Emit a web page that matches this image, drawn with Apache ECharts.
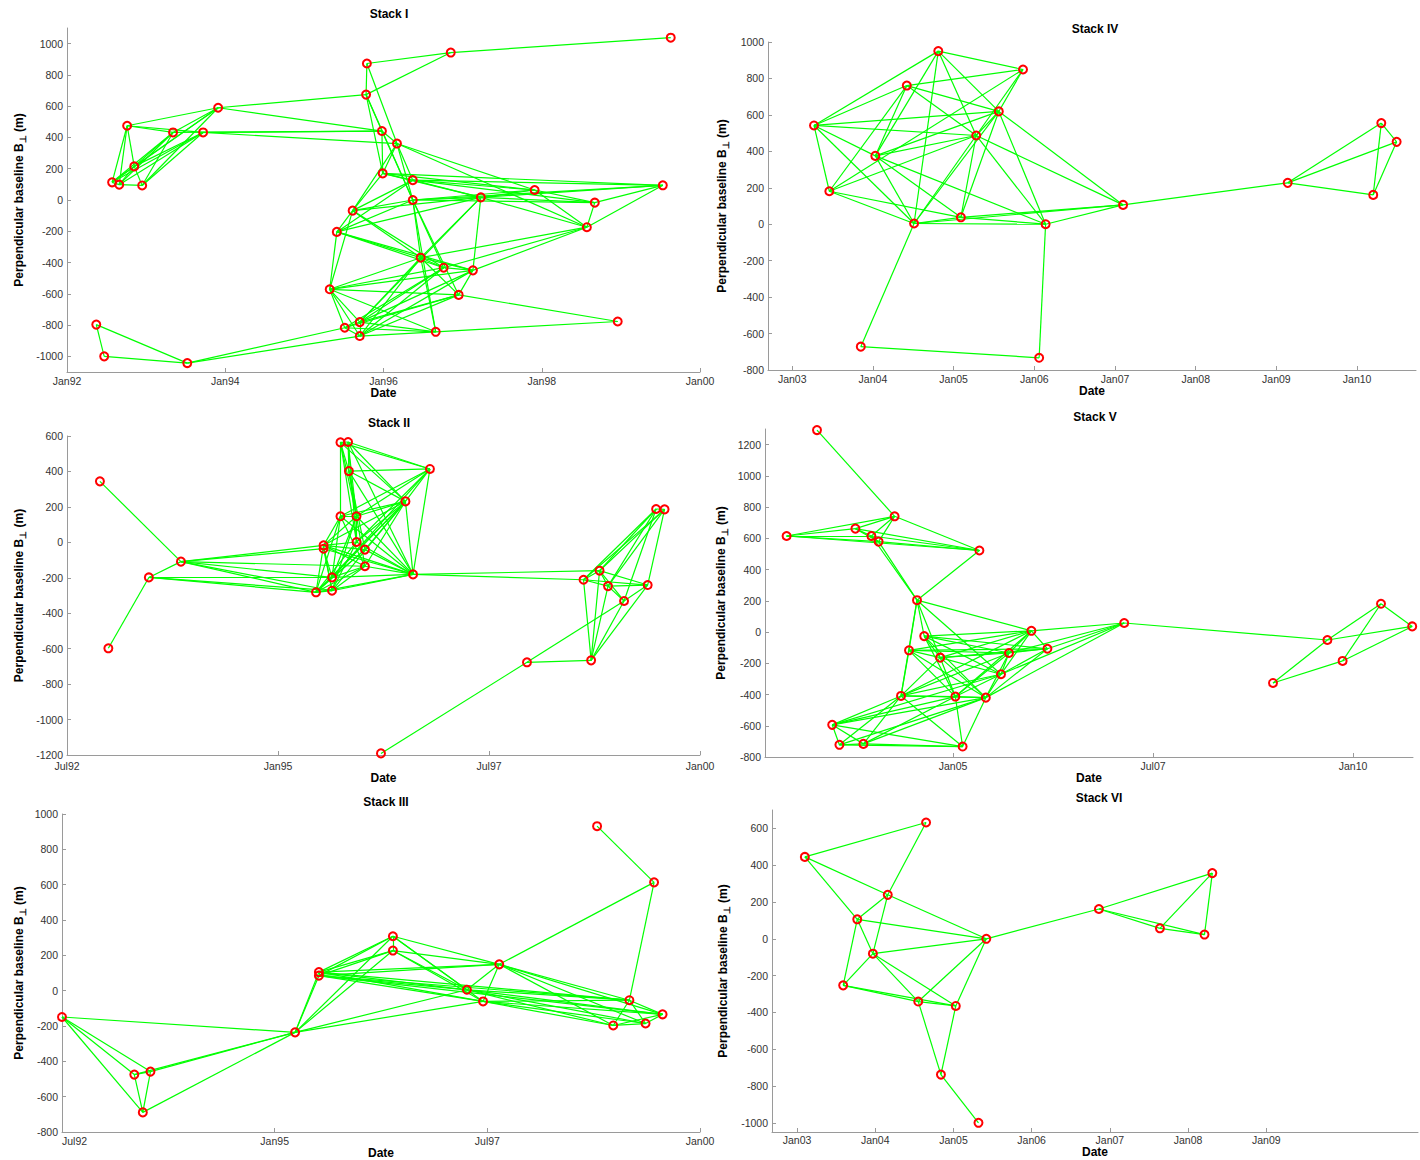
<!DOCTYPE html>
<html><head><meta charset="utf-8">
<script src="https://cdn.jsdelivr.net/npm/echarts@6/dist/echarts.min.js"></script>
<style>html,body{margin:0;padding:0;background:#fff}#chart{width:1420px;height:1160px}</style>
</head><body><div id="chart"></div>
<script>
// ---------- Stack I ----------
const datesI = [1999.63,1996.85,1995.79,1995.78,1993.91,1992.76,1993.34,1993.72,1995.98,1996.17,1992.85,1992.57,1992.66,1992.95,1995.99,1996.37,1997.91,1999.53,1996.37,1997.23,1998.67,1995.61,1995.41,1998.57,1996.47,1996.76,1997.13,1995.32,1996.95,1998.96,1995.70,1995.51,1995.70,1996.66,1992.37,1992.47,1993.52];
const bperpI = [1038,943,873,674,590,475,432,432,441,361,215,113,98,93,170,127,64,94,0,17,-17,-68,-204,-174,-369,-433,-450,-571,-607,-777,-781,-817,-870,-843,-797,-1000,-1043];
const edgesI = [[1,2],[2,3],[2,4],[3,4],[3,10],[4,9],[4,15],[4,19],[4,5],[5,9],
 [5,6],[5,7],[5,12],[5,14],[5,11],[6,7],[6,8],[8,9],[8,10],[7,9],
 [6,11],[6,12],[6,13],[11,12],[11,13],[11,14],[12,13],[13,14],[7,11],[7,12],[7,13],[8,11],[8,12],[8,14],[7,14],[8,13],
 [9,10],[9,15],[9,19],[10,15],[10,19],[10,16],[10,22],[10,17],[10,24],
 [15,16],[15,17],[15,20],[15,18],[15,22],
 [16,17],[16,21],[16,18],[16,20],[16,22],[16,23],
 [19,20],[19,17],[19,18],[19,21],[19,22],[19,23],[19,25],[19,26],[19,29],[19,34],
 [20,17],[20,21],[20,18],[20,24],[20,22],[20,23],[20,25],[20,27],[20,31],
 [17,21],[17,24],[18,21],[18,24],[21,24],
 [22,23],[22,25],[22,26],[22,28],
 [23,25],[23,26],[23,28],[23,27],
 [24,25],[24,27],[24,26],
 [25,26],[25,27],[25,28],[25,29],[25,31],[25,33],[25,34],
 [26,27],[26,28],[26,31],[26,32],[26,33],
 [27,29],[27,28],[27,31],[27,33],
 [28,29],[28,31],[28,32],[28,33],[28,34],
 [29,30],[29,31],[29,32],[29,33],
 [31,32],[31,33],[31,34],[32,33],[32,34],[33,34],[34,30],
 [37,32],[37,33],[35,36],[35,37],[36,37]];
const xTicksI = [1992,1994,1996,1998,2000];
const xLabelsI = ['Jan92','Jan94','Jan96','Jan98','Jan00'];
const yTicksI = [-1000,-800,-600,-400,-200,0,200,400,600,800,1000];

// ---------- Stack II ----------
const datesII = [1992.89,1992.99,1993.47,1993.85,1995.74,1995.83,1995.84,1996.80,1996.51,1995.74,1995.93,1995.93,1996.03,1995.54,1995.54,1996.03,1995.64,1995.45,1995.64,1996.60,1999.48,1999.58,1998.81,1998.62,1998.91,1999.38,1999.10,1998.71,1997.95,1996.22];
const bperpII = [344,-598,-198,-109,564,566,402,414,231,147,147,2,-41,-17,-36,-135,-198,-282,-273,-181,188,186,-160,-211,-247,-241,-331,-666,-677,-1191];
const edgesII = [[1,4],[2,3],[3,4],[4,14],[4,15],[4,18],[4,19],[4,17],[4,16],[3,18],[3,17],[3,19],
 [5,6],[5,7],[5,8],[5,9],[5,10],[5,11],[5,12],[6,7],[6,8],[6,9],[6,11],[6,20],[6,12],[7,8],[7,9],[7,20],[7,11],[7,13],[7,16],
 [8,9],[8,20],[8,10],[8,11],[8,12],[8,17],[9,10],[9,11],[9,12],[9,13],[9,14],[9,16],[9,17],[9,18],[9,19],[9,20],
 [10,11],[10,14],[10,16],[10,17],[10,18],[10,20],[11,12],[11,14],[11,17],[11,19],[11,20],[12,14],[12,18],[12,20],
 [13,14],[13,17],[13,20],[14,15],[14,16],[14,18],[14,19],[14,20],[15,17],[15,19],[15,20],[16,18],[16,19],[16,20],
 [17,18],[17,20],[18,19],[18,20],[19,20],[12,19],[13,18],[16,17],
 [20,23],[20,24],
 [21,22],[21,23],[21,24],[21,25],[21,27],[22,23],[22,26],[22,24],[22,25],[23,24],[23,25],[23,26],[23,27],[23,28],
 [24,25],[24,26],[24,28],[25,26],[25,27],[25,28],[26,27],[26,28],[27,29],[28,29],[29,30],[27,28]];
const xTicksII = [1992.5,1995,1997.5,2000];
const xLabelsII = ['Jul92','Jan95','Jul97','Jan00'];
const yTicksII = [-1200,-1000,-800,-600,-400,-200,0,200,400,600];

// ---------- Stack III ----------
const datesIII = [1992.50,1993.35,1993.54,1993.45,1995.24,1995.52,1995.52,1996.39,1996.39,1997.64,1997.26,1997.45,1999.17,1999.56,1998.98,1999.36,1998.79,1999.46];
const bperpIII = [-149,-475,-458,-689,-236,105,85,308,227,149,5,-61,-54,-134,-197,-186,931,613];
const edgesIII = [[1,2],[1,3],[1,4],[1,5],[2,3],[2,4],[3,4],[2,5],[3,5],[4,5],[5,6],[5,7],[5,8],[5,9],[5,11],[5,12],
 [6,7],[6,8],[6,9],[6,10],[6,11],[6,12],[7,8],[7,9],[7,10],[7,11],[7,12],[7,13],[6,13],[7,14],
 [8,10],[8,11],[8,9],[8,12],[9,10],[9,11],[9,12],[10,11],[10,12],[10,18],[10,13],[10,14],[10,15],[10,16],
 [11,13],[11,14],[11,15],[11,16],[12,13],[12,14],[12,15],[12,16],[13,14],[13,15],[13,16],[14,15],[14,16],[15,16],[13,18],[17,18]];
const xTicksIII = [1992.5,1995,1997.5,2000];
const xLabelsIII = ['Jul92','Jan95','Jul97','Jan00'];
const yTicksIII = [-800,-600,-400,-200,0,200,400,600,800,1000];

// ---------- Stack IV ----------
const datesIV = [2004.81,2005.86,2004.42,2005.56,2003.27,2005.28,2004.03,2003.46,2005.09,2004.51,2006.14,2007.10,2003.85,2006.06,2009.14,2010.30,2010.49,2010.20];
const bperpIV = [950,849,761,619,542,487,375,181,38,4,0,106,-672,-733,227,555,452,161];
const edgesIV = [[1,2],[1,5],[1,7],[1,10],[1,6],[1,4],[2,3],[2,4],[2,6],[2,8],[3,5],[3,4],[3,6],[3,7],[3,8],
 [5,4],[5,6],[5,8],[5,7],[5,10],[7,4],[7,6],[7,9],[7,11],[7,10],[8,6],[8,9],[8,10],
 [6,9],[6,10],[6,11],[6,12],[6,4],[4,9],[4,10],[4,11],[4,12],[9,10],[9,11],[9,12],[10,11],[10,12],[11,12],
 [10,13],[11,14],[13,14],[12,15],[15,16],[15,17],[15,18],[16,17],[16,18],[17,18]];
const xTicksIV = [2003,2004,2005,2006,2007,2008,2009,2010];
const xLabelsIV = ['Jan03','Jan04','Jan05','Jan06','Jan07','Jan08','Jan09','Jan10'];
const yTicksIV = [-800,-600,-400,-200,0,200,400,600,800,1000];

// ---------- Stack V ----------
const datesV = [2003.30,2004.27,2002.92,2003.78,2003.98,2004.07,2005.33,2004.55,2005.98,2007.14,2004.64,2004.45,2004.84,2005.70,2006.18,2005.60,2004.35,2005.03,2005.41,2003.49,2003.58,2003.88,2005.12,2009.00,2009.68,2009.87,2010.35,2010.74];
const bperpV = [1293,741,615,662,615,579,522,204,8,58,-26,-117,-164,-134,-107,-270,-409,-413,-420,-594,-722,-716,-733,-326,-51,-185,181,36];
const edgesV = [[1,2],[2,3],[2,4],[2,5],[2,6],[2,7],[3,4],[3,5],[3,6],[3,7],[4,5],[4,6],[4,7],[5,6],[5,7],[6,7],[6,8],[5,8],[7,8],
 [8,9],[8,11],[8,12],[8,13],[8,16],[8,17],[9,10],[9,11],[9,12],[9,13],[9,14],[9,15],[9,16],[9,17],[9,18],
 [10,14],[10,15],[10,16],[10,19],[10,25],[11,13],[11,14],[11,15],[11,16],[11,18],[11,19],
 [12,13],[12,14],[12,15],[12,17],[12,18],[12,19],[13,14],[13,15],[13,16],[13,17],[13,18],[13,19],
 [14,15],[14,16],[14,17],[14,18],[14,19],[15,16],[15,19],[16,17],[16,18],[16,19],[16,20],
 [17,18],[17,19],[17,20],[17,21],[17,22],[17,23],[18,19],[18,20],[18,22],[18,23],[19,20],[19,21],[19,22],[19,23],
 [20,21],[20,22],[20,23],[21,22],[21,23],[22,23],
 [24,25],[24,26],[25,27],[25,28],[26,27],[26,28],[27,28]];
const xTicksV = [2005,2007.5,2010];
const xLabelsV = ['Jan05','Jul07','Jan10'];
const yTicksV = [-800,-600,-400,-200,0,200,400,600,800,1000,1200];

// ---------- Stack VI ----------
const datesVI = [2004.65,2003.10,2004.16,2003.77,2005.42,2003.97,2003.59,2004.55,2005.03,2004.84,2005.32,2006.86,2007.64,2008.21,2008.31];
const bperpVI = [632,445,239,106,0,-81,-253,-341,-365,-738,-1000,162,57,23,357];
const edgesVI = [[1,2],[1,3],[2,3],[2,4],[3,4],[3,6],[3,5],[4,5],[4,6],[4,7],[6,7],[6,5],[6,8],[6,9],[7,8],[7,9],[8,9],[8,5],[9,5],[8,10],[9,10],[10,11],[5,12],[12,13],[12,14],[12,15],[13,14],[13,15],[14,15]];
const xTicksVI = [2003,2004,2005,2006,2007,2008,2009];
const xLabelsVI = ['Jan03','Jan04','Jan05','Jan06','Jan07','Jan08','Jan09'];
const yTicksVI = [-1000,-800,-600,-400,-200,0,200,400,600];

const titles = ['Stack I','Stack II','Stack III','Stack IV','Stack V','Stack VI'];

// ---------- layout ----------
const panels = [
 {title:titles[0], g:{left:67,top:28,width:633,height:344}, x:[1992,2000], y:[-1100,1100], xt:xTicksI, xl:xLabelsI, yt:yTicksI, d:datesI, b:bperpI, e:edgesI, tx:384, ty:3, yGap:40, xGap:13, xm:3},
 {title:titles[3], g:{left:768,top:42,width:648,height:328}, x:[2002.70,2010.73], y:[-800,1000], xt:xTicksIV, xl:xLabelsIV, yt:yTicksIV, d:datesIV, b:bperpIV, e:edgesIV, tx:1090, ty:18, yGap:38, xGap:11, xm:3},
 {title:titles[1], g:{left:67,top:436,width:633,height:319}, x:[1992.5,2000], y:[-1200,600], xt:xTicksII, xl:xLabelsII, yt:yTicksII, d:datesII, b:bperpII, e:edgesII, tx:384, ty:412, yGap:40, xGap:11, xm:5},
 {title:titles[4], g:{left:765,top:429,width:648,height:328}, x:[2002.65,2010.75], y:[-800,1300], xt:xTicksV, xl:xLabelsV, yt:yTicksV, d:datesV, b:bperpV, e:edgesV, tx:1090, ty:406, yGap:36, xGap:11, xm:3},
 {title:titles[2], g:{left:62,top:814,width:638,height:318}, x:[1992.5,2000], y:[-800,1000], xt:xTicksIII, xl:xLabelsIII, yt:yTicksIII, d:datesIII, b:bperpIII, e:edgesIII, tx:381, ty:791, yGap:35, xGap:10, xm:3, tight:true, minLeft:true},
 {title:titles[5], g:{left:772,top:810,width:646,height:322}, x:[2002.68,2010.94], y:[-1050,700], xt:xTicksVI, xl:xLabelsVI, yt:yTicksVI, d:datesVI, b:bperpVI, e:edgesVI, tx:1094, ty:787, yGap:41, xGap:10, xm:2, tight:true}
];

const labelFont = '"Liberation Sans Narrow", "Arial Narrow", "Liberation Sans", sans-serif';
const boldFont = '"Liberation Sans", Arial, Helvetica, sans-serif';
const axisGray = '#9a9a9a';

const option = {
 backgroundColor: '#ffffff',
 animation: false,
 title: panels.map(p => ({text: p.title, left: p.tx, top: p.ty, textAlign: 'center',
   textStyle: {fontSize: 12, fontWeight: 'bold', color: '#000', fontFamily: boldFont}})),
 grid: panels.map(p => Object.assign({containLabel: false, outerBoundsMode: 'none'}, p.g)),
 xAxis: panels.map((p, i) => ({
   type: 'value', gridIndex: i, min: p.x[0], max: p.x[1],
   name: 'Date', nameLocation: 'middle', nameGap: p.xGap,
   nameTextStyle: Object.assign({fontSize: 12, fontWeight: 'bold', color: '#000', fontFamily: boldFont, verticalAlign: 'top'},
     p.tight ? {lineHeight: 12} : {}),
   axisLine: {show: true, onZero: false, lineStyle: {color: axisGray, width: 1}},
   axisTick: {show: true, inside: true, length: 4, customValues: p.xt, lineStyle: {color: axisGray}},
   axisLabel: Object.assign({customValues: p.xt, margin: p.xm, fontSize: 10.5, color: '#333', fontFamily: labelFont,
     formatter: v => { const k = p.xt.findIndex(t => Math.abs(t - v) < 1e-6); return k >= 0 ? p.xl[k] : ''; }},
     p.tight ? {lineHeight: 11} : {}, p.minLeft ? {alignMinLabel: 'left'} : {}),
   splitLine: {show: false}
 })),
 yAxis: panels.map((p, i) => ({
   type: 'value', gridIndex: i, min: p.y[0], max: p.y[1],
   name: 'Perpendicular baseline B{s|⊥} (m)', nameLocation: 'middle', nameGap: p.yGap, nameRotate: 90,
   nameTextStyle: {fontSize: 12, fontWeight: 'bold', color: '#000', fontFamily: boldFont,
     rich: {s: {fontSize: 9, fontWeight: 'bold', color: '#000', fontFamily: boldFont, padding: [7, 0, 0, 0]}}},
   axisLine: {show: true, onZero: false, lineStyle: {color: axisGray, width: 1}},
   axisTick: {show: true, inside: true, length: 4, customValues: p.yt, lineStyle: {color: axisGray}},
   axisLabel: {customValues: p.yt, margin: 4, fontSize: 10.5, lineHeight: 11, color: '#333', fontFamily: labelFont,
     formatter: v => String(Math.round(v))},
   splitLine: {show: false}
 })),
 series: []
};

panels.forEach((p, i) => {
 option.series.push({
   type: 'lines', coordinateSystem: 'cartesian2d', xAxisIndex: i, yAxisIndex: i, silent: true, z: 2,
   lineStyle: {color: '#00ff00', width: 1.2, opacity: 1},
   data: p.e.map(([a, c]) => ({coords: [[p.d[a - 1], p.b[a - 1]], [p.d[c - 1], p.b[c - 1]]]}))
 });
 option.series.push({
   type: 'scatter', xAxisIndex: i, yAxisIndex: i, z: 3, symbol: 'circle', symbolSize: 8,
   itemStyle: {color: 'rgba(255,255,255,0)', borderColor: '#ff0000', borderWidth: 2, opacity: 1},
   data: p.d.map((d, k) => [d, p.b[k]])
 });
});

const chart = echarts.init(document.getElementById('chart'), null, {renderer: 'svg'});
chart.setOption(option);
</script></body></html>
